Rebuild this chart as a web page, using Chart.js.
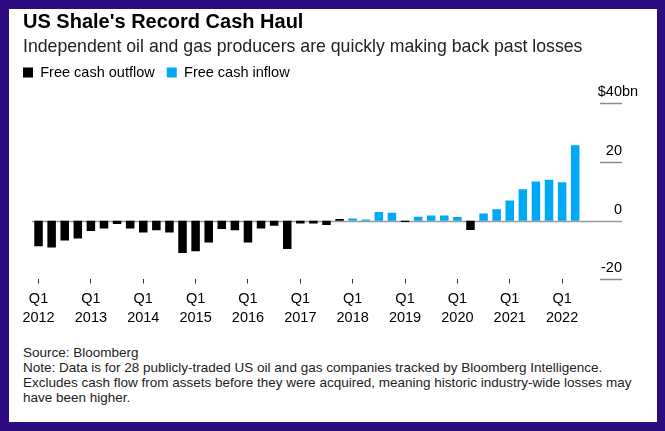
<!DOCTYPE html>
<html>
<head>
<meta charset="utf-8">
<script src="https://cdn.jsdelivr.net/npm/chart.js@4/dist/chart.umd.min.js"></script>
<style>
  html, body { margin: 0; padding: 0; }
  body { width: 665px; height: 431px; background: #2b0b7e; position: relative; overflow: hidden; }
  #card { position: absolute; left: 9px; top: 9px; width: 648px; height: 413px; background: #fff; }
  #wrap { position: absolute; left: 0; top: 0; width: 648px; height: 330px; }
  #notes {
    position: absolute; left: 14px; top: 336px; width: 634px;
    font: 13.5px "Liberation Sans", Arial, sans-serif; line-height: 15px; color: #222;
    white-space: nowrap;
  }
</style>
</head>
<body>
<div id="card">
  <div id="wrap"><canvas id="graph"></canvas></div>
  <div id="notes">
    Source: Bloomberg<br>
    Note: Data is for 28 publicly-traded US oil and gas companies tracked by Bloomberg Intelligence.<br>
    Excludes cash flow from assets before they were acquired, meaning historic industry-wide losses may<br>
    have been higher.
  </div>
</div>
<script>
const years = ['2012', '2013', '2014', '2015', '2016', '2017', '2018', '2019', '2020', '2021', '2022'];
const quarters = ['Q1', 'Q2', 'Q3', 'Q4'];

// free cash flow per quarter, $bn (Q1 2012 .. Q2 2022)
const outflow = [
  -8.7, -9.1, -6.7, -6.0, -3.5, -2.6, -1.1, -2.6, -4.0, -3.2, -4.0, -11.0,
  -10.4, -7.4, -2.8, -3.2, -7.4, -2.6, -1.7, -9.6, -0.9, -0.9, -1.4, 0.6,
  null, null, null, null, -0.4, null, null, null, null, -3.1, null, null,
  null, null, null, null, null, null
];
const inflow = [
  null, null, null, null, null, null, null, null, null, null, null, null,
  null, null, null, null, null, null, null, null, null, null, null, null,
  0.8, 0.4, 3.0, 2.7, null, 1.4, 1.8, 1.8, 1.3, null, 2.5, 3.9,
  6.9, 10.7, 13.4, 14.0, 13.1, 25.7
];

const yTicks = [40, 20, 0, -20];
const yTickLabels = ['$40', '20', '0', '-20'];
const yUnit = 'bn';

const categories = [];
years.forEach(y => quarters.forEach(q => categories.push(q + ' ' + y)));
categories.length = outflow.length;
// empty slots on the right leave room for the value labels
categories.push('', '', '');

const FONT = '"Liberation Sans", Arial, sans-serif';
Chart.defaults.font.family = FONT;
Chart.defaults.color = '#000';

// zero line + short gridline stubs and labels on the right
const valueAxis = {
  id: 'valueAxis',
  beforeDatasetsDraw(chart) {
    const { ctx, chartArea } = chart;
    const y0 = Math.round(chart.scales.y.getPixelForValue(0)) + 0.5;
    ctx.save();
    ctx.strokeStyle = '#9a9a9a';
    ctx.lineWidth = 1.3;
    ctx.beginPath();
    ctx.moveTo(chartArea.left, y0);
    ctx.lineTo(chartArea.right + 1, y0);
    ctx.stroke();
    ctx.restore();
  },
  afterDraw(chart) {
    const { ctx, chartArea } = chart;
    const x2 = chartArea.right + 1;
    ctx.save();
    ctx.strokeStyle = '#8c8c8c';
    ctx.lineWidth = 1.5;
    ctx.font = '14.5px ' + FONT;
    ctx.fillStyle = '#000';
    ctx.textBaseline = 'alphabetic';
    yTicks.forEach((v, i) => {
      const py = Math.round(chart.scales.y.getPixelForValue(v)) + 0.5;
      if (v !== 0) {
        ctx.beginPath();
        ctx.moveTo(x2 - 22, py);
        ctx.lineTo(x2, py);
        ctx.stroke();
      }
      ctx.textAlign = 'right';
      ctx.fillText(yTickLabels[i], x2, py - 7.5);
      if (i === 0) {
        ctx.textAlign = 'left';
        ctx.fillText(yUnit, x2, py - 7.5);
      }
    });
    ctx.restore();
  }
};

const ctx = document.getElementById('graph').getContext('2d');
const chart = new Chart(ctx, {
  type: 'bar',
  data: {
    labels: categories,
    datasets: [
      {
        label: 'Free cash outflow',
        data: outflow,
        backgroundColor: '#000000',
        borderWidth: 0,
        xAxisID: 'x',
        yAxisID: 'y'
      },
      {
        label: 'Free cash inflow',
        data: inflow,
        backgroundColor: '#00a9f4',
        borderWidth: 0,
        xAxisID: 'x',
        yAxisID: 'y'
      }
    ]
  },
  options: {
    responsive: true,
    maintainAspectRatio: false,
    animation: false,
    barPercentage: 0.65,
    categoryPercentage: 1,
    layout: { padding: { left: 14, right: 36, top: 0, bottom: 5.5 } },
    plugins: {
      title: {
        display: true,
        text: "US Shale's Record Cash Haul",
        align: 'start',
        color: '#000',
        font: { size: 20, weight: 'bold', lineHeight: 1.2 },
        padding: { top: 1.5, bottom: 0 }
      },
      subtitle: {
        display: true,
        text: 'Independent oil and gas producers are quickly making back past losses',
        align: 'start',
        color: '#222',
        font: { size: 17.7, lineHeight: 1.2 },
        padding: { top: 2.1, bottom: 7.5 }
      },
      legend: {
        display: true,
        align: 'start',
        labels: {
          boxWidth: 10,
          boxHeight: 10,
          padding: 0,
          color: '#000',
          font: { size: 14.5 },
          generateLabels(chart) {
            const items = Chart.defaults.plugins.legend.labels.generateLabels(chart);
            items.forEach(it => { it.text = it.text + '   '; it.lineWidth = 0; });
            return items;
          }
        }
      },
      tooltip: { enabled: false }
    },
    scales: {
      x: {
        stacked: true,
        offset: true,
        border: { display: false },
        grid: {
          offset: false,
          drawOnChartArea: false,
          tickLength: 4,
          lineWidth: 1,
          color: c => (c.index % 4 === 0 && c.index < outflow.length) ? '#333' : 'rgba(0,0,0,0)'
        },
        ticks: {
          autoSkip: false,
          maxRotation: 0,
          padding: 6.5,
          color: '#000',
          font: { size: 14.5, lineHeight: 1.276 },
          callback(value, index) {
            const lab = categories[index] || '';
            return lab.startsWith('Q1') ? lab.split(' ') : '';
          }
        }
      },
      x2: {
        type: 'category',
        labels: categories,
        position: 'top',
        border: { display: false },
        grid: { display: false, drawTicks: false },
        ticks: { display: false },
        afterFit(s) { s.height = 13.5; }
      },
      y: {
        stacked: true,
        position: 'left',
        min: -20,
        max: 40,
        border: { display: false },
        grid: { display: false, drawTicks: false },
        ticks: { display: false },
        afterFit(s) { s.width = 9; }
      }
    }
  },
  plugins: [valueAxis]
});
</script>
</body>
</html>
